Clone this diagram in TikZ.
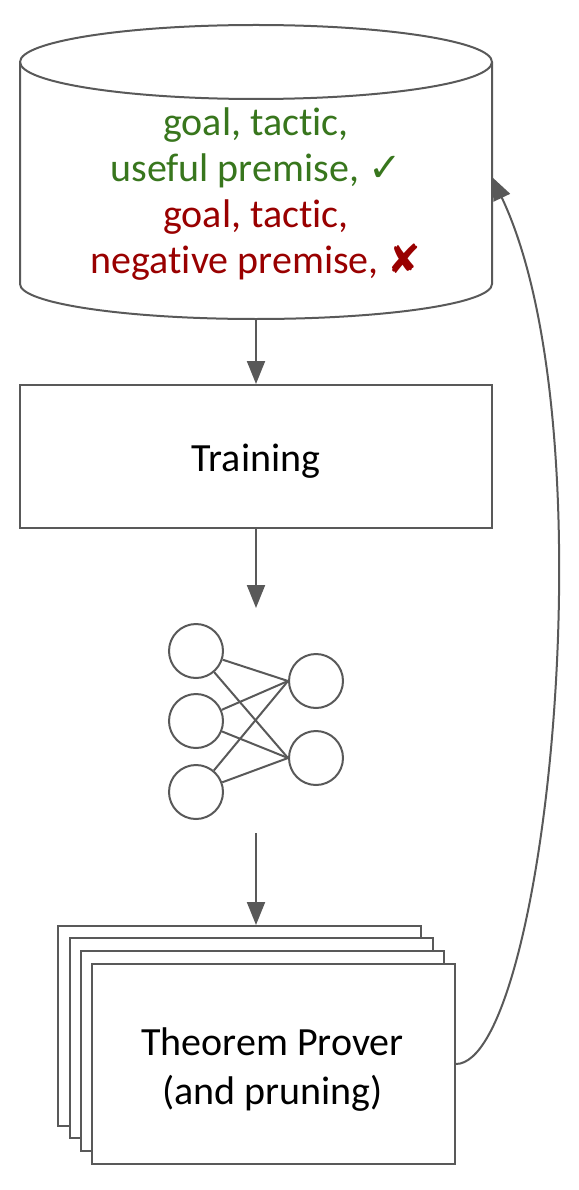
\documentclass[tikz,border=0pt]{standalone}
\usepackage{fontspec}
\setmainfont{Carlito}[Ligatures=NoCommon]
\newfontfamily\symfont{DejaVu Sans}
\usetikzlibrary{arrows.meta}
\definecolor{ln}{HTML}{595959}
\definecolor{okgreen}{HTML}{38761D}
\definecolor{badred}{HTML}{990000}
\begin{document}
\begin{tikzpicture}[x=1pt,y=-1pt,
  every node/.style={font=\fontsize{40}{46}\selectfont},
  line/.style={draw=ln,line width=2pt},
  arr/.style={draw=ln,line width=2pt,-{Triangle[length=23pt,width=18pt]}},
  boxnode/.style={draw=ln,line width=2pt,fill=white,rectangle,inner sep=0pt},
  neuron/.style={draw=ln,line width=2pt,circle,minimum size=54pt,inner sep=0pt},
  stackbox/.style={boxnode,minimum width=363pt,minimum height=200pt}]
\useasboundingbox (0,0) rectangle (578,1190);
% database cylinder
\draw[line] (20,62) arc[start angle=180,end angle=-180,x radius=236,y radius=37];
\draw[line] (20,62) -- (20,284) arc[start angle=180,end angle=0,x radius=236,y radius=35] -- (492,62);
\node[inner sep=0pt,minimum width=472pt,minimum height=294pt] (db) at (256,172) {};
\node[align=center,inner sep=0pt] (dbtext) at (256,194) {%
  \color{okgreen}goal, tactic,\\
  \color{okgreen}useful premise, {\symfont\bfseries ✓}\\
  \color{badred}goal, tactic,\\
  \color{badred}negative premise, {\symfont ✘}};
\coordinate (fb) at (492,177);
% training
\node[boxnode,minimum width=472pt,minimum height=143pt] (train) at (256,456.5) {};
\node[inner sep=0pt] (traintext) at ([yshift=-5pt]train.center) {Training};
\draw[arr] (db.south) -- (train.north);
% neural net
\coordinate (nntop) at (256,608);
\draw[arr] (train.south) -- (nntop);
\node[neuron] (i1) at (196,651) {};
\node[neuron] (i2) at (196,721) {};
\node[neuron] (i3) at (196,792) {};
\node[neuron] (o1) at (316,681) {};
\node[neuron] (o2) at (316,758) {};
\foreach \i in {i1,i2,i3}{
  \draw[line] (\i) -- (o1.west);
  \draw[line] (\i) -- (o2.west);
}
% theorem provers
\node[stackbox] (p1) at (239.5,1026) {};
\node[stackbox] (p2) at (251,1038) {};
\node[stackbox] (p3) at (262.5,1050.5) {};
\node[stackbox] (p4) at (273.5,1064) {};
\node[align=center,inner sep=0pt,font=\fontsize{40}{49}\selectfont] (p4text) at ([xshift=-1pt,yshift=-6pt]p4.center) {Theorem Prover\\(and pruning)};
\coordinate (nnbot) at (256,833);
\draw[arr] (nnbot) -- (nnbot |- p1.north);
% feedback
\draw[arr] (p4.east) .. controls (545,1063) and (612,430) .. (fb);
\end{tikzpicture}
\end{document}
